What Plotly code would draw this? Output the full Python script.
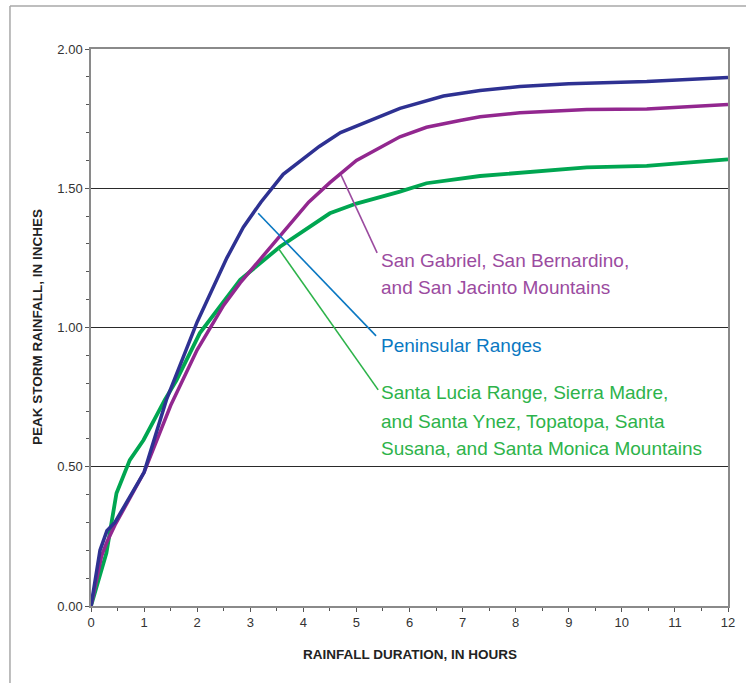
import plotly.graph_objects as go

# ---- data ----
blue_x = [0, 0.17, 0.3, 0.45, 1.0, 1.42, 2.0, 2.56, 2.87, 3.2, 3.62, 4.3, 4.7, 5.2, 5.82, 6.64, 7.33, 8.08, 9.0, 10.47, 12]
blue_y = [0, 0.20, 0.27, 0.30, 0.48, 0.74, 1.02, 1.25, 1.36, 1.45, 1.55, 1.65, 1.70, 1.74, 1.787, 1.831, 1.851, 1.865, 1.875, 1.883, 1.898]

purple_x = [0, 0.2, 0.3, 0.45, 1.0, 1.5, 2.0, 2.5, 2.81, 3.56, 4.1, 4.5, 5.0, 5.82, 6.32, 6.95, 7.33, 8.08, 9.34, 10.47, 12]
purple_y = [0, 0.18, 0.23, 0.29, 0.48, 0.72, 0.92, 1.08, 1.16, 1.33, 1.45, 1.52, 1.60, 1.685, 1.719, 1.743, 1.757, 1.771, 1.783, 1.785, 1.801]

green_x = [0, 0.29, 0.48, 0.73, 0.99, 1.39, 1.61, 2.05, 2.81, 3.56, 4.5, 5.0, 5.82, 6.32, 7.33, 8.08, 9.34, 10.47, 12]
green_y = [0, 0.19, 0.405, 0.524, 0.596, 0.74, 0.81, 0.98, 1.171, 1.29, 1.41, 1.445, 1.488, 1.518, 1.544, 1.556, 1.575, 1.580, 1.604]

purple_label = ["San Gabriel, San Bernardino,", "and San Jacinto Mountains"]
blue_label = ["Peninsular Ranges"]
green_label = ["Santa Lucia Range, Sierra Madre,", "and Santa Ynez, Topatopa, Santa",
               "Susana, and Santa Monica Mountains"]

x_title = "RAINFALL DURATION, IN HOURS"
y_title = "PEAK STORM RAINFALL, IN INCHES"

C_BLUE = "#2E3192"
C_PURPLE = "#92278F"
C_GREEN = "#00A651"
T_PURPLE = "#9B4B9F"
T_BLUE = "#0A78C2"
T_GREEN = "#2DB34A"

fig = go.Figure()
fig.add_trace(go.Scatter(x=green_x, y=green_y, mode="lines",
                         line=dict(color=C_GREEN, width=3.8), showlegend=False))
fig.add_trace(go.Scatter(x=purple_x, y=purple_y, mode="lines",
                         line=dict(color=C_PURPLE, width=3.5), showlegend=False))
fig.add_trace(go.Scatter(x=blue_x, y=blue_y, mode="lines",
                         line=dict(color=C_BLUE, width=3.5), showlegend=False))

# leader lines
leaders = [
    (4.71, 1.548, 5.39, 1.268, T_PURPLE),
    (3.15, 1.41, 5.37, 0.97, T_BLUE),
    (3.53, 1.284, 5.41, 0.776, T_GREEN),
]
for x0, y0, x1, y1, c in leaders:
    fig.add_shape(type="line", x0=x0, y0=y0, x1=x1, y1=y1, xref="x", yref="y",
                  line=dict(color=c, width=1.6))

lab_font = "Liberation Sans Narrow, Arial Narrow, sans-serif"
for lines, ys, c in [(purple_label, [1.242, 1.142], T_PURPLE),
                     (blue_label, [0.937], T_BLUE),
                     (green_label, [0.765, 0.664, 0.567], T_GREEN)]:
    for t, yy in zip(lines, ys):
        fig.add_annotation(x=5.42, y=yy, xref="x", yref="y", text=t, showarrow=False,
                           xanchor="left", yanchor="middle",
                           font=dict(family=lab_font, size=19, color=c))

# axis titles
fig.add_annotation(x=0.5008, y=-0.0862, xref="paper", yref="paper", text="<b>%s</b>" % x_title,
                   showarrow=False, xanchor="center", yanchor="middle",
                   font=dict(family="Liberation Sans, Arial, sans-serif", size=13.5, color="#222"))
fig.add_annotation(x=-0.0832, y=0.501, xref="paper", yref="paper", text="<b>%s</b>" % y_title,
                   showarrow=False, xanchor="center", yanchor="middle", textangle=-90,
                   font=dict(family="Liberation Sans, Arial, sans-serif", size=13.5, color="#222"))

# outer frame
fig.add_shape(type="line", xref="paper", yref="paper", x0=-0.1272, y0=1.0772, x1=1.2, y1=1.0772,
              line=dict(color="#A8A8A8", width=1.5))
fig.add_shape(type="line", xref="paper", yref="paper", x0=-0.1272, y0=1.0772, x1=-0.1272, y1=-0.2,
              line=dict(color="#A8A8A8", width=1.5))

fig.update_xaxes(range=[0, 12], dtick=1, tick0=0, showgrid=False, zeroline=False,
                 showline=True, linecolor="#8A8A8A", linewidth=1.5, mirror=True,
                 ticks="outside", ticklen=4, tickcolor="#555", tickwidth=1,
                 minor=dict(dtick=0.5, ticks="outside", ticklen=3, tickcolor="#555", showgrid=False),
                 tickfont=dict(family="Liberation Sans, Arial, sans-serif", size=13, color="#333"))
fig.update_yaxes(range=[0, 2], dtick=0.5, tick0=0, tickformat=".2f", showgrid=True,
                 gridcolor="#2a2a2a", gridwidth=1, zeroline=False,
                 showline=True, linecolor="#8A8A8A", linewidth=1.5, mirror=True,
                 ticks="outside", ticklen=4, tickcolor="#555", tickwidth=1,
                 minor=dict(dtick=0.1, ticks="outside", ticklen=3, tickcolor="#555", showgrid=False),
                 tickfont=dict(family="Liberation Sans, Arial, sans-serif", size=13, color="#333"))

fig.update_layout(width=746, height=683, margin=dict(l=91, r=18, t=49, b=77),
                  plot_bgcolor="white", paper_bgcolor="white")

fig.write_html("out.html", post_script="document.body.style.margin='0';",
               config={"displayModeBar": False})
